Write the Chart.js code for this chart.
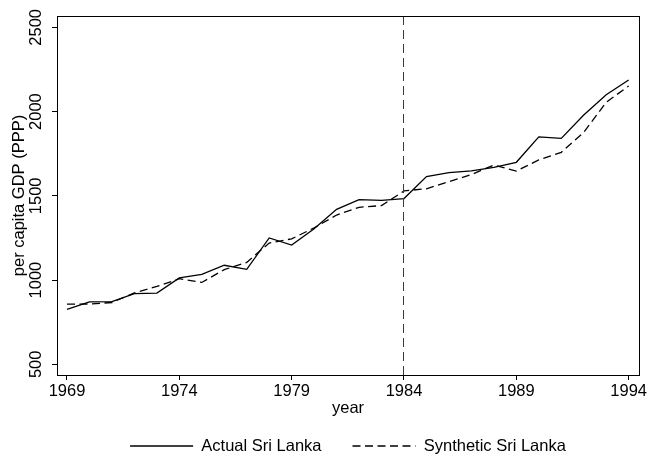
<!DOCTYPE html>
<html>
<head>
<meta charset="utf-8">
<script src="https://cdn.jsdelivr.net/npm/chart.js@4"></script>
<style>
  html, body { margin: 0; padding: 0; background: #fff; }
  canvas { display: block; }
</style>
</head>
<body>
<canvas id="c" width="650" height="456"></canvas>
<script>
const years = [1969,1970,1971,1972,1973,1974,1975,1976,1977,1978,1979,1980,1981,1982,1983,1984,1985,1986,1987,1988,1989,1990,1991,1992,1993,1994];
const actualSriLanka = [826,871,872,920,923,1013,1034,1088,1064,1250,1208,1305,1420,1477,1473,1484,1614,1638,1648,1669,1699,1850,1841,1980,2100,2187];
const syntheticSriLanka = [857,858,867,924,962,1008,986,1062,1105,1220,1245,1310,1386,1432,1442,1529,1542,1584,1626,1683,1647,1713,1758,1877,2055,2152];
const xTickValues = [1969,1974,1979,1984,1989,1994];
const yTickValues = [500,1000,1500,2000,2500];
const treatmentYear = 1984;
const seriesLabels = ['Actual Sri Lanka', 'Synthetic Sri Lanka'];
const xTitle = 'year';
const yTitle = 'per capita GDP (PPP)';

const FONT = "'Liberation Sans', Arial, Helvetica, sans-serif";
const FS = 16.5;
Chart.defaults.font.family = FONT;
Chart.defaults.font.size = FS;
Chart.defaults.color = '#000';

function alignPx(p) { return Math.round(p - 0.5) + 0.5; }

const framePlugin = {
  id: 'frame',
  afterDatasetsDraw(chart) {
    const {ctx, chartArea: a, scales} = chart;
    const x = alignPx(scales.x.getPixelForValue(treatmentYear));
    ctx.save();
    ctx.strokeStyle = '#3a3a3a';
    ctx.lineWidth = 1;
    ctx.setLineDash([9, 5]);
    ctx.beginPath();
    ctx.moveTo(x, a.top);
    ctx.lineTo(x, a.bottom);
    ctx.stroke();
    ctx.restore();
  },
  afterDraw(chart) {
    const {ctx, chartArea: a} = chart;
    ctx.save();
    ctx.strokeStyle = '#000';
    ctx.lineWidth = 1;
    const l = alignPx(a.left), r = alignPx(a.right), t = alignPx(a.top), b = alignPx(a.bottom);
    ctx.strokeRect(l, t, r - l, b - t);
    ctx.restore();
  }
};

new Chart(document.getElementById('c'), {
  type: 'line',
  data: {
    datasets: [
      {
        label: seriesLabels[0],
        data: years.map((y, i) => ({x: y, y: actualSriLanka[i]})),
        borderColor: '#000',
        backgroundColor: 'rgba(0,0,0,0)',
        borderWidth: 1.3,
        pointRadius: 0,
        tension: 0
      },
      {
        label: seriesLabels[1],
        data: years.map((y, i) => ({x: y, y: syntheticSriLanka[i]})),
        borderColor: '#000',
        backgroundColor: 'rgba(0,0,0,0)',
        borderWidth: 1.3,
        borderDash: [8, 4.5],
        pointRadius: 0,
        tension: 0
      }
    ]
  },
  options: {
    responsive: false,
    animation: false,
    layout: { padding: { top: 16, right: 11, bottom: -8.25, left: 0 } },
    plugins: {
      legend: {
        position: 'bottom',
        fullSize: false,
        labels: {
          usePointStyle: true,
          pointStyle: 'line',
          pointStyleWidth: 63,
          padding: 31,
          color: '#000',
          font: { size: FS, family: FONT },
          generateLabels: chart => {
            const items = Chart.defaults.plugins.legend.labels.generateLabels(chart);
            items.forEach(it => {
              const ds = chart.data.datasets[it.datasetIndex];
              it.lineDash = ds.borderDash || [];
              it.lineWidth = ds.borderWidth;
              it.strokeStyle = ds.borderColor;
              it.pointStyle = 'line';
            });
            return items;
          }
        }
      },
      tooltip: { enabled: false }
    },
    scales: {
      x: {
        type: 'linear',
        min: 1968.555,
        max: 1994.46,
        afterBuildTicks: s => { s.ticks = xTickValues.map(v => ({value: v})); },
        afterFit: s => { s.height = 31.75; },
        ticks: { padding: 2, color: '#000', font: { size: FS }, callback: v => String(v), maxRotation: 0, autoSkip: false },
        grid: { drawOnChartArea: false, drawTicks: true, tickLength: 5, tickColor: '#000', color: '#000' },
        border: { display: true, color: '#000', width: 1 },
        title: { display: true, text: xTitle, color: '#000', font: { size: FS }, padding: { top: 0, bottom: -12 } }
      },
      y: {
        type: 'linear',
        min: 436.7,
        max: 2567.2,
        afterBuildTicks: s => { s.ticks = yTickValues.map(v => ({value: v})); },
        afterFit: s => { s.width = 57; },
        ticks: { padding: -2.35, color: '#000', font: { size: FS }, callback: v => String(v), minRotation: 90, maxRotation: 90, crossAlign: 'center', autoSkip: false },
        grid: { drawOnChartArea: false, drawTicks: true, tickLength: 5, tickColor: '#000', color: '#000' },
        border: { display: true, color: '#000', width: 1 },
        title: { display: true, text: yTitle, color: '#000', font: { size: FS }, padding: { top: 9.1, bottom: 0 } }
      }
    }
  },
  plugins: [framePlugin]
});
</script>
</body>
</html>
